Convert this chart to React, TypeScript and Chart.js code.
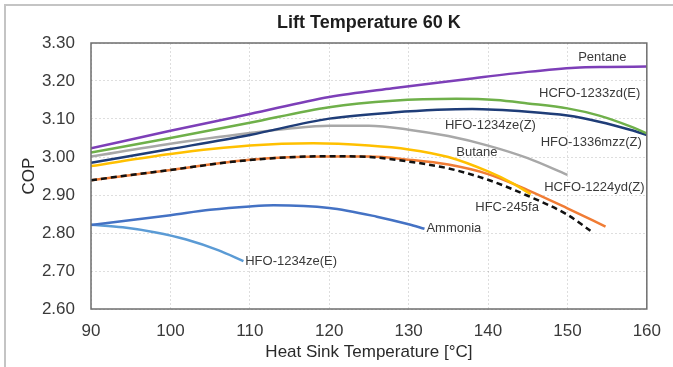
import { useEffect, useRef } from "react";
import { Chart, registerables } from "chart.js";

Chart.register(...registerables);

// ---- Data ----
const chartTitle = "Lift Temperature 60 K";
const xAxisTitle = "Heat Sink Temperature [°C]";
const yAxisTitle = "COP";

const xMin = 90;
const xMax = 160;
const xStep = 10;
const yMin = 2.6;
const yMax = 3.3;
const yStep = 0.1;

const hfc245faT = [90, 100, 110, 120, 125, 130, 135, 140, 145, 150, 152.9];
const hfc245faCOP = [2.939, 2.966, 2.992, 3.002, 3.0, 2.988, 2.97, 2.94, 2.898, 2.848, 2.806];

const pentaneT = [90, 100, 110, 120, 128, 137, 145, 151, 155, 160];
const pentaneCOP = [3.023, 3.069, 3.113, 3.158, 3.181, 3.204, 3.224, 3.235, 3.237, 3.238];

const hcfo1233zdET = [90, 100, 110, 120, 128, 136, 141, 145, 150, 154, 158, 160];
const hcfo1233zdECOP = [3.012, 3.05, 3.09, 3.131, 3.148, 3.153, 3.15, 3.141, 3.128, 3.109, 3.08, 3.062];

const hfo1336mzzZT = [90, 100, 110, 120, 128, 138, 145, 150, 154, 158, 160];
const hfo1336mzzZCOP = [2.985, 3.021, 3.058, 3.101, 3.117, 3.126, 3.119, 3.109, 3.093, 3.071, 3.058];

const hfo1234zeZT = [90, 100, 110, 115, 120, 125, 130, 135, 140, 145, 150];
const hfo1234zeZCOP = [3.001, 3.035, 3.063, 3.075, 3.082, 3.082, 3.072, 3.055, 3.03, 2.997, 2.953];

const butaneT = [90, 100, 110, 118, 125, 130, 135, 140, 143, 145.4];
const butaneCOP = [2.976, 3.008, 3.03, 3.036, 3.03, 3.02, 3.0, 2.962, 2.932, 2.902];

const hcfo1224ydZT = [90, 100, 110, 120, 125, 130, 135, 140, 145, 150, 154.8];
const hcfo1224ydZCOP = [2.939, 2.966, 2.993, 3.001, 3.001, 2.993, 2.98, 2.955, 2.913, 2.865, 2.817];

const ammoniaT = [90, 100, 105, 110, 113, 120, 126, 130, 132];
const ammoniaCOP = [2.821, 2.847, 2.861, 2.87, 2.873, 2.866, 2.843, 2.823, 2.811];

const hfo1234zeET = [90, 94, 98, 102, 106, 109.2];
const hfo1234zeECOP = [2.822, 2.815, 2.802, 2.783, 2.755, 2.726];

// Curve annotations (text, position in data units)
const labelTexts = [
  "Pentane",
  "HCFO-1233zd(E)",
  "HFO-1234ze(Z)",
  "HFO-1336mzz(Z)",
  "Butane",
  "HCFO-1224yd(Z)",
  "HFC-245fa",
  "Ammonia",
  "HFO-1234ze(E)",
];
const labelT = [154.4, 152.8, 140.3, 153.0, 138.6, 153.4, 142.4, 135.7, 115.2];
const labelCOP = [3.263, 3.168, 3.082, 3.038, 3.011, 2.921, 2.866, 2.813, 2.726];

const FONT = "'Liberation Sans', Arial, Helvetica, sans-serif";

function pts(t: number[], c: number[]) {
  return t.map((x, i) => ({ x, y: c[i] }));
}

export default function App() {
  const canvasRef = useRef<HTMLCanvasElement | null>(null);

  useEffect(() => {
    const canvas = canvasRef.current;
    if (!canvas) return;

    const line = (label: string, t: number[], c: number[], color: string, dash: number[] = []) => ({
      label,
      data: pts(t, c),
      borderColor: color,
      backgroundColor: color,
      borderWidth: 2.5,
      borderDash: dash,
      pointRadius: 0,
      fill: false,
      cubicInterpolationMode: "monotone" as const,
    });

    const framePlugin = {
      id: "frame",
      beforeDraw(chart: any) {
        const ctx = chart.ctx;
        ctx.save();
        ctx.strokeStyle = "#c4c4c4";
        ctx.lineWidth = 2;
        ctx.beginPath();
        ctx.moveTo(5, chart.height);
        ctx.lineTo(5, 5);
        ctx.lineTo(chart.width, 5);
        ctx.stroke();
        ctx.restore();
      },
      afterDatasetsDraw(chart: any) {
        const { ctx, chartArea, scales } = chart;
        ctx.save();
        ctx.strokeStyle = "#6e6e6e";
        ctx.lineWidth = 1.5;
        ctx.strokeRect(chartArea.left, chartArea.top, chartArea.right - chartArea.left, chartArea.bottom - chartArea.top);
        ctx.fillStyle = "#3a3a3a";
        ctx.font = `13px ${FONT}`;
        ctx.textAlign = "center";
        ctx.textBaseline = "middle";
        labelTexts.forEach((txt, i) => {
          const x = scales.x.getPixelForValue(labelT[i]);
          const y = scales.y.getPixelForValue(labelCOP[i]);
          ctx.fillText(txt, x, y);
        });
        ctx.restore();
      },
    };

    const chart = new Chart(canvas, {
      type: "line",
      data: {
        datasets: [
          line("HFC-245fa", hfc245faT, hfc245faCOP, "#111111", [6, 4]),
          line("Pentane", pentaneT, pentaneCOP, "#7d3fb8"),
          line("HCFO-1233zd(E)", hcfo1233zdET, hcfo1233zdECOP, "#6fb04a"),
          line("HFO-1336mzz(Z)", hfo1336mzzZT, hfo1336mzzZCOP, "#1f3d78"),
          line("HFO-1234ze(Z)", hfo1234zeZT, hfo1234zeZCOP, "#a8a8a8"),
          line("Butane", butaneT, butaneCOP, "#ffc000"),
          line("HCFO-1224yd(Z)", hcfo1224ydZT, hcfo1224ydZCOP, "#f07c35"),
          line("Ammonia", ammoniaT, ammoniaCOP, "#4472c4"),
          line("HFO-1234ze(E)", hfo1234zeET, hfo1234zeECOP, "#5b9bd5"),
        ],
      },
      options: {
        animation: false,
        responsive: false,
        devicePixelRatio: 1,
        layout: { padding: { left: 0, right: 25, top: 0, bottom: 0 } },
        plugins: {
          legend: { display: false },
          tooltip: { enabled: false },
          title: {
            display: true,
            text: chartTitle,
            fullSize: false,
            color: "#1e1e1e",
            font: { family: FONT, size: 18, weight: "bold" },
            padding: { top: 12.5, bottom: 8.9 },
          },
        },
        scales: {
          x: {
            type: "linear",
            min: xMin,
            max: xMax,
            afterFit: (s: any) => {
              s.height = 58;
            },
            ticks: {
              stepSize: xStep,
              padding: 12,
              color: "#3a3a3a",
              font: { family: FONT, size: 17 },
            },
            grid: { color: "rgba(0,0,0,0.13)", drawTicks: false, lineWidth: 1 },
            border: { display: false, dash: [2, 2] },
            title: {
              display: true,
              text: xAxisTitle,
              color: "#2a2a2a",
              font: { family: FONT, size: 17 },
              padding: { top: 0, bottom: 4.3 },
            },
          },
          y: {
            type: "linear",
            min: yMin,
            max: yMax,
            afterFit: (s: any) => {
              s.width = 91;
            },
            ticks: {
              stepSize: yStep,
              padding: 16,
              color: "#3a3a3a",
              font: { family: FONT, size: 17 },
              callback: (v: any) => Number(v).toFixed(2),
            },
            grid: { color: "rgba(0,0,0,0.13)", drawTicks: false, lineWidth: 1 },
            border: { display: false, dash: [2, 2] },
            title: {
              display: true,
              text: yAxisTitle,
              color: "#2a2a2a",
              font: { family: FONT, size: 17 },
              padding: { top: 18.8, bottom: 0 },
            },
          },
        },
      },
      plugins: [framePlugin],
    });

    return () => chart.destroy();
  }, []);

  return (
    <div style={{ position: "fixed", left: 0, top: 0, width: 673, height: 367, background: "#fff" }}>
      <canvas ref={canvasRef} width={673} height={367} style={{ display: "block" }} />
    </div>
  );
}
